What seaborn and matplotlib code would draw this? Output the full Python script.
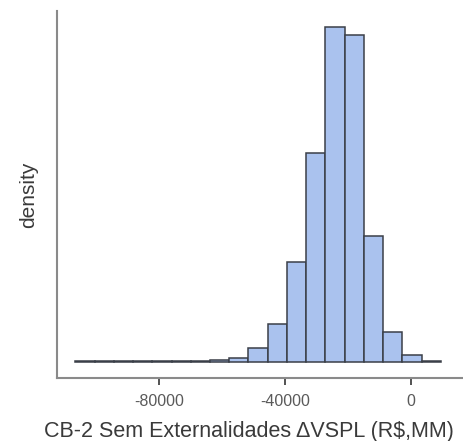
import numpy as np
import pandas as pd
import matplotlib
matplotlib.use("Agg")
import matplotlib.pyplot as plt
import seaborn as sns

# bin edges (R$ MM) and counts per bin
bin_edges = [-106660, -100550, -94440, -88330, -82220, -76110, -70000, -63890,
             -57780, -51670, -45560, -39450, -33340, -27230, -21120, -15010,
             -8900, -2790, 3320, 9430]
bin_counts = [2, 1, 1, 2, 2, 3, 5, 14, 31, 112, 318, 842, 1752, 2814, 2746,
              1059, 247, 56, 4]
xtick_values = [-80000, -40000, 0]
xlabel = "CB-2 Sem Externalidades \u0394VSPL (R$,MM)"
ylabel = "density"

edges = [float(e) for e in bin_edges]
centers = [(a + b) / 2 for a, b in zip(edges[:-1], edges[1:])]
df = pd.DataFrame({"value": centers, "count": bin_counts})

sns.set_theme(style="white")
plt.rcParams["font.family"] = ["Liberation Sans", "DejaVu Sans"]

fig = plt.figure(figsize=(4.64, 4.41), dpi=100)
ax = fig.add_axes([57.3 / 464, 1 - 378.3 / 441, (463 - 57.3) / 464, (378.3 - 10.5) / 441])

sns.histplot(data=df, x="value", weights="count", bins=edges, stat="density",
             color="#aac2ee", edgecolor="#3a3f48", linewidth=1.1, alpha=1.0, ax=ax)

# 5% padding above and below the bars, like the reference
top = max(p.get_height() for p in ax.patches)
ax.set_ylim(-0.05 * top, 1.05 * top)
ax.set_xlim(-112400, 16500)
ax.set_xticks(xtick_values)
ax.set_xticklabels([str(v) for v in xtick_values])
ax.set_yticks([])
ax.set_xlabel(xlabel, fontsize=15.5, color="#3a3a3a")
ax.xaxis.set_label_coords(0.4725, -0.115)
ax.set_ylabel(ylabel, fontsize=15, color="#3a3a3a", labelpad=14)
ax.tick_params(axis="x", bottom=True, length=5, width=1.3, color="#444444",
               labelsize=11.5, labelcolor="#5a5a5a", pad=6)

for side in ["top", "right"]:
    ax.spines[side].set_visible(False)
for side in ["left", "bottom"]:
    ax.spines[side].set_color("#8a8a8a")
    ax.spines[side].set_linewidth(1.5)

fig.savefig("out.png", dpi=100)
